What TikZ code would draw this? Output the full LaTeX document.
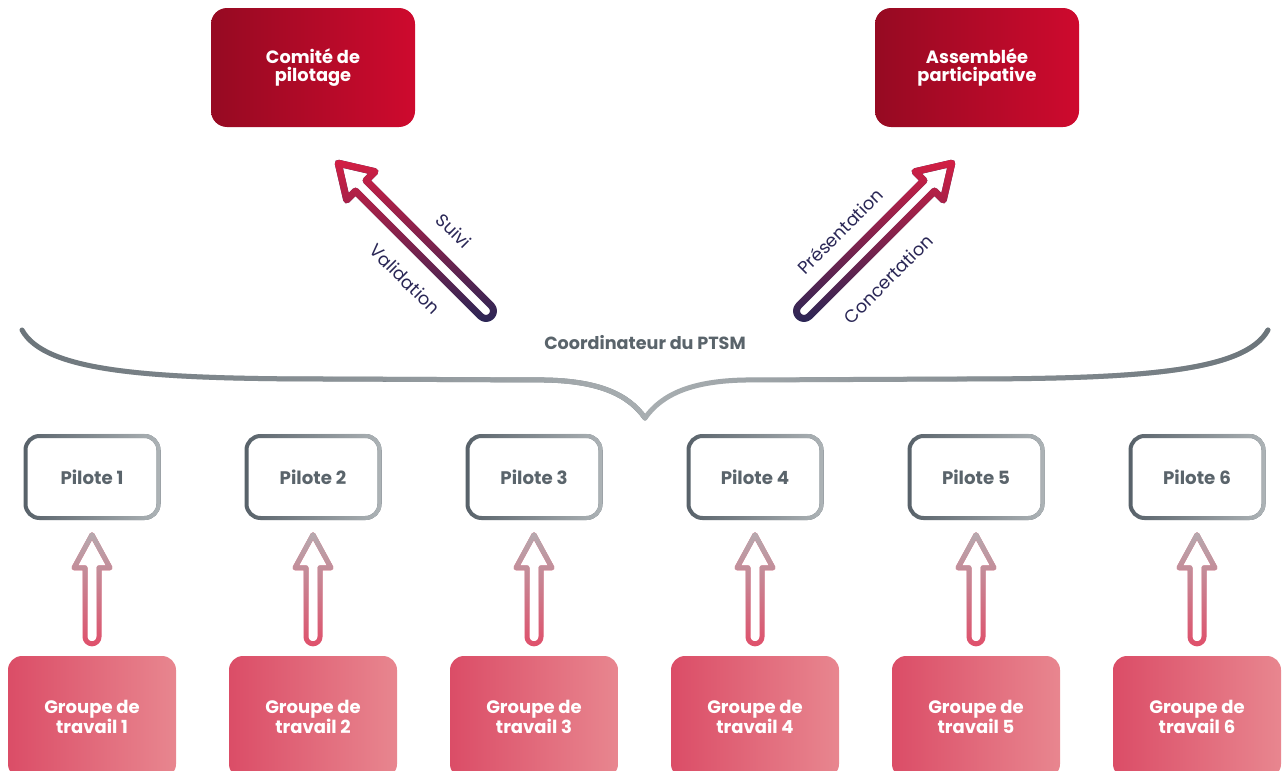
\documentclass[tikz,border=0pt]{standalone}
\usepackage{fontspec}
\setmainfont{Poppins}
\usetikzlibrary{positioning,fadings}

\definecolor{comitedark}{HTML}{960A22}
\definecolor{comitelight}{HTML}{CE0A2E}
\definecolor{groupedark}{HTML}{DB4D67}
\definecolor{groupelight}{HTML}{E8868F}
\definecolor{pilotedark}{HTML}{58626A}
\definecolor{pilotelight}{HTML}{AEB4B7}
\definecolor{pilotetext}{HTML}{5A646B}
\definecolor{bracedark}{HTML}{6C757B}
\definecolor{bracelight}{HTML}{A9AFB2}
\definecolor{navy}{HTML}{2A2756}
\definecolor{arrowred}{HTML}{D41F44}
\definecolor{upgray}{HTML}{B6ABB0}
\definecolor{uppink}{HTML}{E0506B}

\tikzfading[name=fadeE, left color=transparent!100, right color=transparent!0]
\tikzfading[name=fadeN, top color=transparent!0, bottom color=transparent!100]

\begin{document}
\begin{tikzpicture}[x=1pt, y=-1pt,
  topbox/.style={rectangle, rounded corners=16pt, minimum width=204pt, minimum height=119pt,
    left color=comitedark, right color=comitelight, text=white, align=center,
    font=\bfseries\fontsize{17.8}{18.5}\selectfont},
  pilotebox/.style={rectangle, rounded corners=14pt, draw=pilotedark, line width=4pt, outer sep=0pt,
    minimum width=133pt, minimum height=82pt, text=pilotetext,
    font=\bfseries\fontsize{18.2}{18}\selectfont},
  groupebox/.style={rectangle, rounded corners=14pt, minimum width=168pt, minimum height=122pt,
    left color=groupedark, right color=groupelight, text=white, align=center,
    font=\bfseries\fontsize{18}{18.5}\selectfont},
  coordtext/.style={text=pilotetext, font=\bfseries\fontsize{17.6}{18}\selectfont},
  arrowtext/.style={text=navy, font=\fontsize{17.8}{18}\selectfont},
  hollow/.style={line width=7pt, line join=round},
  hollowsmall/.style={line width=5pt, line join=round},
  brace/.style={line width=5pt, line cap=round}
]
\useasboundingbox (0,0) rectangle (1283,771);

\node[topbox] (comite) at (313,67.5) {Comité de\\pilotage};
\node[topbox] (assemblee) at (977,67.5) {Assemblée\\participative};
\node[coordtext] (coord) at (645,343) {Coordinateur du PTSM};

\coordinate (tailL) at (486,311);
\coordinate (tailR) at (804,311);

% accolade
\draw[brace, bracedark] (22,330) .. controls (45,372) and (150,379) .. (330,379)
  -- (545,380) .. controls (598,381) and (628,394) .. (645,418);
\draw[brace, bracelight, path fading=fadeE] (22,330) .. controls (45,372) and (150,379) .. (330,379)
  -- (545,380) .. controls (598,381) and (628,394) .. (645,418);
\draw[brace, bracelight] (645,418) .. controls (662,394) and (692,381) .. (745,380)
  -- (960,379) .. controls (1140,379) and (1245,372) .. (1268,330);
\draw[brace, bracedark, path fading=fadeE] (645,418) .. controls (662,394) and (692,381) .. (745,380)
  -- (960,379) .. controls (1140,379) and (1245,372) .. (1268,330);

% fleches vers le haut
\begin{scope}[shift={(tailL)}, rotate=135]
\draw[hollow, navy] (0,7.5) -- (177,7.5) -- (177,20) -- (209,0) -- (177,-20) -- (177,-7.5)
  -- (0,-7.5) arc[start angle=90, end angle=270, radius=7.5pt] -- cycle;
\draw[hollow, arrowred, path fading=fadeN] (0,7.5) -- (177,7.5) -- (177,20) -- (209,0) -- (177,-20) -- (177,-7.5)
  -- (0,-7.5) arc[start angle=90, end angle=270, radius=7.5pt] -- cycle;
\end{scope}
\begin{scope}[shift={(tailR)}, rotate=45]
\draw[hollow, navy] (0,7.5) -- (177,7.5) -- (177,20) -- (209,0) -- (177,-20) -- (177,-7.5)
  -- (0,-7.5) arc[start angle=90, end angle=270, radius=7.5pt] -- cycle;
\draw[hollow, arrowred, path fading=fadeN] (0,7.5) -- (177,7.5) -- (177,20) -- (209,0) -- (177,-20) -- (177,-7.5)
  -- (0,-7.5) arc[start angle=90, end angle=270, radius=7.5pt] -- cycle;
\end{scope}

\node[arrowtext, rotate=-45] (suivi) at (454,231) {Suivi};
\node[arrowtext, rotate=-45] (validation) at (405,279) {Validation};
\node[arrowtext, rotate=45] (presentation) at (840,231) {Présentation};
\node[arrowtext, rotate=45] (concertation) at (888,279) {Concertation};

% pilotes et groupes
\foreach \i in {1,...,6} {
  \node[pilotebox] (p\i) at ({92+221*(\i-1)},477) {Pilote \i};
  \draw[pilotelight, line width=4pt, rounded corners=14pt, path fading=fadeE]
    (p\i.south west) rectangle (p\i.north east);
  \node[groupebox] (g\i) at ({92+221*(\i-1)},717) {Groupe de\\travail \i};
  \begin{scope}[shift={(g\i.north)}]
  \draw[hollowsmall, uppink] (7,-19) -- (7,-88) -- (18,-88) -- (0,-121) -- (-18,-88) -- (-7,-88)
    -- (-7,-19) arc[start angle=180, end angle=360, radius=7pt] -- cycle;
  \draw[hollowsmall, upgray, path fading=fadeN] (7,-19) -- (7,-88) -- (18,-88) -- (0,-121) -- (-18,-88) -- (-7,-88)
    -- (-7,-19) arc[start angle=180, end angle=360, radius=7pt] -- cycle;
  \end{scope}
}

\end{tikzpicture}
\end{document}
